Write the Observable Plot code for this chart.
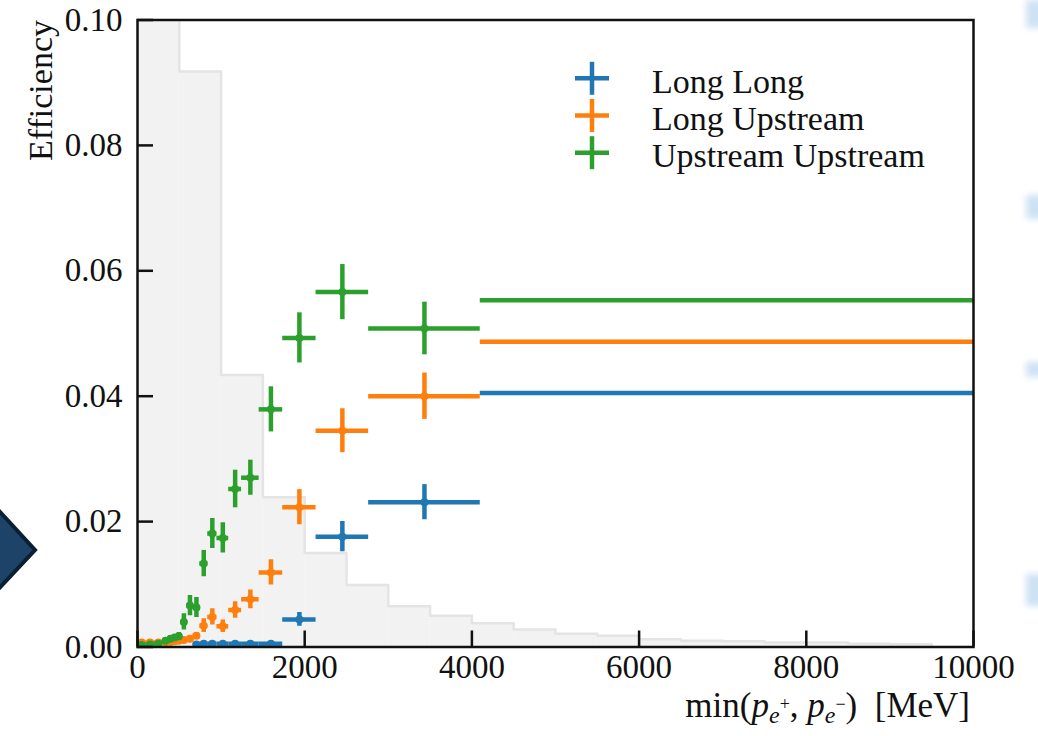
<!DOCTYPE html>
<html><head><meta charset="utf-8">
<script src="https://cdn.jsdelivr.net/npm/d3@7"></script>
<script src="https://cdn.jsdelivr.net/npm/@observablehq/plot@0.6"></script>
<style>
html,body{margin:0;padding:0;background:#fff;}
#chart{position:relative;width:1038px;height:736px;overflow:hidden;}
</style>
</head><body><div id="chart"></div>
<script>
// ---- data ----
const seriesNames = ["Long Long", "Long Upstream", "Upstream Upstream"];
const seriesColors = ["#1f77b4", "#ff7f0e", "#2ca02c"];

// shared momentum bins [MeV]
const binLo = [0, 100, 200, 300, 370, 420, 470, 520, 590, 665, 745, 840, 950, 1091, 1245, 1455, 1737, 2136, 2765, 4100];
const binHi = [100, 200, 300, 370, 420, 470, 520, 590, 665, 745, 840, 950, 1091, 1245, 1455, 1737, 2136, 2765, 4100, 20000];

const effLL = [null, null, null, null, null, null, null, null, null, 0.0004, 0.0005, 0.0005, 0.0005, 0.0005, 0.0005, 0.0005, 0.0044, 0.0176, 0.0231, 0.0405];
const errLL = [null, null, null, null, null, null, null, null, null, 0.0002, 0.0002, 0.0002, 0.0002, 0.0002, 0.0002, 0.0002, 0.0011, 0.0024, 0.0028, 0.0003];

const effLU = [0.0007, 0.0007, 0.0007, 0.0007, 0.0008, 0.0009, 0.0010, 0.0011, 0.0013, 0.0018, 0.0034, 0.0048, 0.0033, 0.0059, 0.0076, 0.0119, 0.0223, 0.0345, 0.0400, 0.0487];
const errLU = [0.0002, 0.0002, 0.0002, 0.0002, 0.0003, 0.0003, 0.0003, 0.0003, 0.0004, 0.0005, 0.0011, 0.0013, 0.0010, 0.0013, 0.0015, 0.0020, 0.0028, 0.0035, 0.0037, 0.0003];

const effUU = [0.0003, 0.0004, 0.0005, 0.0010, 0.0013, 0.0015, 0.0017, 0.0040, 0.0066, 0.0063, 0.0133, 0.0181, 0.0174, 0.0252, 0.0270, 0.0379, 0.0493, 0.0566, 0.0508, 0.0553];
const errUU = [0.0002, 0.0002, 0.0003, 0.0004, 0.0005, 0.0005, 0.0006, 0.0013, 0.0016, 0.0016, 0.0021, 0.0024, 0.0024, 0.0030, 0.0028, 0.0036, 0.0040, 0.0044, 0.0042, 0.0003];

// background momentum distribution (arbitrary normalisation)
const histEdges = [0, 500, 1000, 1500, 2000, 2500, 3000, 3500, 4000, 4500, 5000, 5500, 6000, 6500, 7000, 7500, 8000, 8500, 9000, 9500, 10000];
const histHeights = [0.13, 0.0918, 0.0434, 0.0239, 0.0150, 0.0099, 0.0065, 0.0050, 0.0038, 0.0028, 0.0021, 0.0018, 0.00125, 0.0010, 0.0009, 0.0007, 0.0007, 0.0005, 0.00045, 0.0];

const xTicks = [0, 2000, 4000, 6000, 8000, 10000];
const yTicks = [0.00, 0.02, 0.04, 0.06, 0.08, 0.10];

// ---- tables ----
const effs = [effLL, effLU, effUU];
const errs = [errLL, errLU, errUU];
const pointTables = effs.map((eff, s) =>
  binLo.map((lo, i) => ({lo, hi: binHi[i], xc: (lo + binHi[i]) / 2, y: eff[i], e: errs[s][i]}))
       .filter(d => d.y != null));
const histBars = histHeights.map((h, i) => ({x1: histEdges[i], x2: histEdges[i + 1], h}));
const histLine = histHeights.map((h, i) => ({x: histEdges[i], h})).concat([{x: histEdges[histEdges.length - 1], h: histHeights[histHeights.length - 1]}]);

const LW = 4.5;
const marks = [
  Plot.rectY(histBars, {x1: "x1", x2: "x2", y1: 0, y2: "h", fill: "#f2f2f2", clip: true}),
  Plot.line(histLine, {x: "x", y: "h", curve: "step-after", stroke: "#e4e4e4", strokeWidth: 2.5, clip: true})
];
pointTables.forEach((tbl, s) => {
  marks.push(
    Plot.ruleY(tbl, {y: "y", x1: "lo", x2: "hi", stroke: seriesColors[s], strokeWidth: LW, clip: true}),
    Plot.ruleX(tbl, {x: "xc", y1: d => d.y - d.e, y2: d => d.y + d.e, stroke: seriesColors[s], strokeWidth: LW, clip: true}),
    Plot.dot(tbl, {x: "xc", y: "y", r: 4, fill: seriesColors[s], stroke: "none", clip: true})
  );
});
marks.push(
  Plot.axisX({ticks: xTicks, tickSize: -16, fill: "none", stroke: "#111", strokeWidth: 2.5, label: null}),
  Plot.axisX({ticks: xTicks, tickSize: 0, tickPadding: 8, stroke: "none", fill: "#111", tickFormat: d3.format("d"), label: null}),
  Plot.axisY({ticks: yTicks, tickSize: -16, fill: "none", stroke: "#111", strokeWidth: 2.5, label: null}),
  Plot.axisY({ticks: yTicks, tickSize: 0, tickPadding: 15, stroke: "none", fill: "#111", tickFormat: d3.format(".2f"), label: null}),
  Plot.frame({stroke: "#111", strokeWidth: 2.5})
);

const plot = Plot.plot({
  width: 1038, height: 736,
  marginLeft: 137, marginRight: 65, marginTop: 19.5, marginBottom: 89.5,
  x: {domain: [0, 10000]},
  y: {domain: [0, 0.1]},
  style: {fontFamily: "'Liberation Serif', serif", fontSize: "33px", background: "#fff", color: "#111", overflow: "visible"},
  marks
});
document.getElementById("chart").appendChild(plot);

// ---- labels, legend, decorations ----
const svg = d3.select(plot);
const font = "'Liberation Serif', serif";

// y label
svg.append("text").attr("transform", "translate(52,20) rotate(-90)")
  .attr("text-anchor", "end").attr("font-family", font).attr("font-size", 34).attr("fill", "#111")
  .text("Efficiency");

// x label: min(p_{e+}, p_{e-}) [MeV]
const xl = svg.append("text").attr("x", 970).attr("y", 717).attr("text-anchor", "end")
  .attr("font-family", font).attr("font-size", 35).attr("fill", "#111");
xl.append("tspan").text("min(");
xl.append("tspan").attr("font-style", "italic").text("p");
xl.append("tspan").attr("font-style", "italic").attr("font-size", 24).attr("dy", 6).text("e");
xl.append("tspan").attr("font-size", 18).attr("dy", -13).text("+");
xl.append("tspan").attr("dy", 7).text(", ");
xl.append("tspan").attr("font-style", "italic").text("p");
xl.append("tspan").attr("font-style", "italic").attr("font-size", 24).attr("dy", 6).text("e");
xl.append("tspan").attr("font-size", 18).attr("dy", -13).text("\u2212");
xl.append("tspan").attr("dy", 7).text(")\u2002[MeV]");

// legend
seriesNames.forEach((name, i) => {
  const yc = 78.3 + i * 37.2;
  const g = svg.append("g").attr("stroke", seriesColors[i]).attr("stroke-width", LW);
  g.append("line").attr("x1", 575).attr("x2", 609).attr("y1", yc).attr("y2", yc);
  g.append("line").attr("x1", 592).attr("x2", 592).attr("y1", yc - 16.5).attr("y2", yc + 16.5);
  svg.append("text").attr("x", 652).attr("y", yc + 14.5).attr("font-family", font)
    .attr("text-anchor", "start").attr("font-size", 34).attr("fill", "#111").text(name);
});

// slide decorations
svg.append("polygon").attr("points", "-10,501 35,550 -10,598")
  .attr("fill", "#1d4468").attr("stroke", "#0b1f33").attr("stroke-width", 4);
const defs = svg.append("defs");
const f = defs.append("filter").attr("id", "blurR").attr("x", "-50%").attr("y", "-50%").attr("width", "200%").attr("height", "200%");
f.append("feGaussianBlur").attr("stdDeviation", 3);
[[0, 28], [195, 219], [362, 377], [574, 606]].forEach(([a, b]) => {
  svg.append("rect").attr("x", 1026).attr("y", a).attr("width", 20).attr("height", b - a)
    .attr("fill", "#cfe2f4").attr("filter", "url(#blurR)");
});
</script>
</body></html>
